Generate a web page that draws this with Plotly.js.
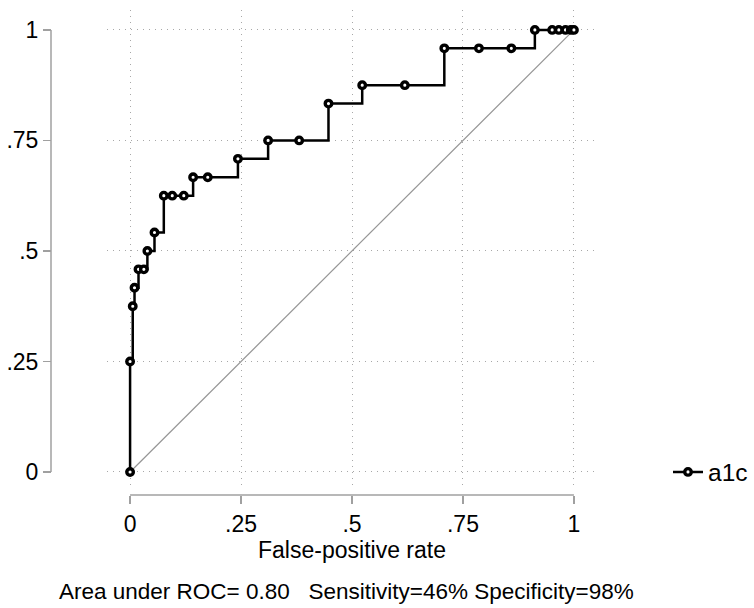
<!DOCTYPE html>
<html>
<head>
<meta charset="utf-8">
<script src="https://cdn.plot.ly/plotly-3.0.1.min.js"></script>
<style>
  body { margin: 0; background: #fff; }
  #plotArea { width: 754px; height: 608px; }
</style>
</head>
<body>
<div id="plotArea"></div>
<script>
// ROC curve data
var fpr = [0, 0, 0.006, 0.010, 0.019, 0.031, 0.039, 0.055, 0.076, 0.095, 0.121,
           0.142, 0.175, 0.243, 0.311, 0.381, 0.447, 0.523, 0.619, 0.708, 0.786,
           0.859, 0.912, 0.951, 0.966, 0.981, 0.993, 1];
var tpr = [0, 0.25, 0.375, 0.4167, 0.4583, 0.4583, 0.5, 0.5417, 0.625, 0.625, 0.625,
           0.6667, 0.6667, 0.7083, 0.75, 0.75, 0.8333, 0.875, 0.875, 0.9583, 0.9583,
           0.9583, 1, 1, 1, 1, 1, 1];
var refLine = [0, 1];
var tickVals = [0, 0.25, 0.5, 0.75, 1];
var tickText = ["0", ".25", ".5", ".75", "1"];
var seriesName = "a1c";
var noteText = "Area under ROC= 0.80   Sensitivity=46% Specificity=98%";

var W = 754, H = 608;
var font = "Liberation Sans, Arial, sans-serif";
var axisGray = "#a0a0a0";
var gridGray = "#a8a8a8";

var diag = {
    x: refLine,
    y: refLine,
    mode: "lines",
    line: {color: "#969696", width: 1.2},
    showlegend: false,
    hoverinfo: "skip"
};

var roc = {
    x: fpr,
    y: tpr,
    name: seriesName,
    mode: "lines+markers",
    line: {color: "black", width: 2.5, shape: "hv"},
    marker: {symbol: "circle", size: 6.5, color: "white", line: {color: "black", width: 3.4}}
};

var layout = {
    width: W,
    height: H,
    margin: {l: 0, r: 0, t: 0, b: 0},
    paper_bgcolor: "white",
    plot_bgcolor: "white",
    font: {family: font, size: 23, color: "black"},
    xaxis: {
        domain: [107 / W, 597 / W],
        range: [-0.052, 1.052],
        anchor: "free",
        position: (H - 495) / H,
        tickvals: tickVals,
        ticktext: tickText,
        tickfont: {size: 23},
        ticks: "outside",
        ticklen: 8,
        tickwidth: 1.5,
        tickcolor: axisGray,
        showline: false,
        zeroline: false,
        showgrid: true,
        gridcolor: gridGray,
        griddash: "1px,5px",
        gridwidth: 1,
        title: {text: "False-positive rate", font: {size: 23}, standoff: 6},
        fixedrange: true
    },
    yaxis: {
        domain: [(H - 487) / H, (H - 10) / H],
        range: [-0.034, 1.045],
        anchor: "free",
        position: 51 / W,
        tickvals: tickVals,
        ticktext: tickText,
        tickfont: {size: 23},
        ticks: "outside",
        ticklen: 8,
        tickwidth: 1.5,
        tickcolor: axisGray,
        showline: false,
        zeroline: false,
        showgrid: true,
        gridcolor: gridGray,
        griddash: "1px,5px",
        gridwidth: 1,
        fixedrange: true
    },
    shapes: [
        // axis lines only span 0..1, offset from the plot region
        {type: "line", xref: "paper", yref: "y", x0: 51 / W, x1: 51 / W, y0: 0, y1: 1,
         line: {color: axisGray, width: 1.5}},
        {type: "line", xref: "x", yref: "paper", x0: 0, x1: 1, y0: (H - 495) / H, y1: (H - 495) / H,
         line: {color: axisGray, width: 1.5}}
    ],
    legend: {
        x: 668 / W,
        y: (H - 472) / H,
        xanchor: "left",
        yanchor: "middle",
        bgcolor: "rgba(0,0,0,0)",
        font: {family: font, size: 24.5}
    },
    annotations: [{
        text: noteText,
        xref: "paper", yref: "paper",
        x: 57 / W, y: (H - 591) / H,
        xanchor: "left", yanchor: "middle",
        showarrow: false,
        font: {family: font, size: 22.5}
    }]
};

Plotly.newPlot("plotArea", [diag, roc], layout, {displayModeBar: false, staticPlot: true});
</script>
</body>
</html>
